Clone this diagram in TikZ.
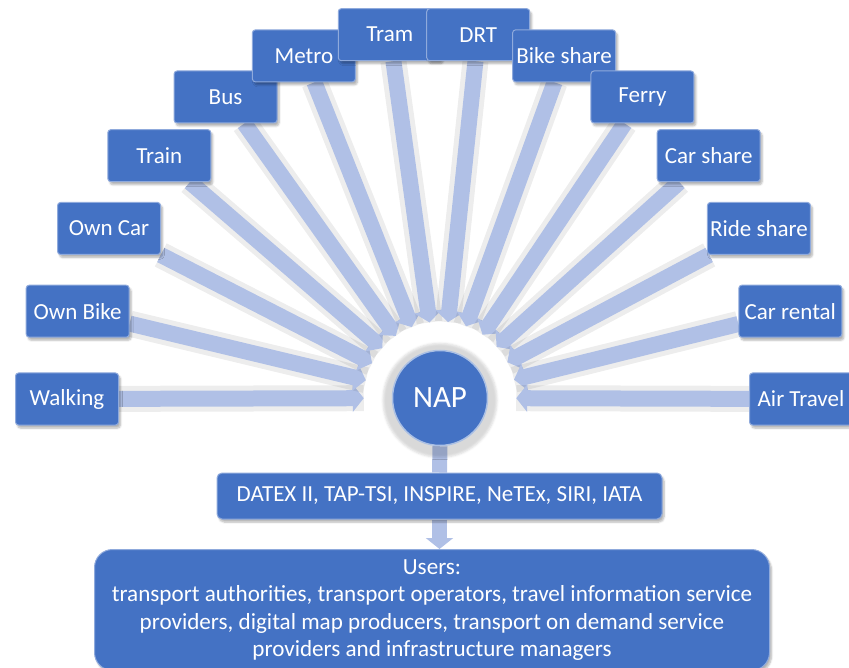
\documentclass[tikz,border=0pt]{standalone}
\usepackage{fontspec}
\setmainfont{Carlito}
\usetikzlibrary{arrows.meta,calc,shadows.blur}
\pgfdeclarelayer{background}
\pgfsetlayers{background,main}
\definecolor{boxblue}{RGB}{68,114,196}
\definecolor{fanblue}{RGB}{176,192,230}

\begin{document}
\begin{tikzpicture}[x=1pt,y=-1pt,
	mode/.style={rectangle, rounded corners=3pt, fill=boxblue, draw=boxblue!60!white,
		line width=1pt, text=white, inner sep=0pt, minimum width=103pt, minimum height=52pt,
		font=\fontsize{23}{27.5}\selectfont,
		blur shadow={shadow xshift=2pt, shadow yshift=-3pt, shadow opacity=30, shadow blur steps=6}},
	fan/.style={line width=16pt, draw=fanblue, -{Triangle[width=27pt,length=11pt]},
		preaction={draw=black, draw opacity=.07, line width=26pt, arrows=-}},
	down/.style={line width=15pt, draw=fanblue}]
	\useasboundingbox (0,0) rectangle (849,668);

	% transport modes on a half circle round the hub
	\foreach \name/\txt [count=\i from 0] in {walk/Walking, ownbike/Own Bike, owncar/Own Car,
			train/Train, bus/Bus, metro/Metro, tram/Tram, drt/DRT, bikeshare/Bike share,
			ferry/Ferry, carshare/Car share, rideshare/Ride share, carrental/Car rental,
			air/Air Travel}
		\node[mode] (\name) at ($(434,399)+({180+\i*180/13}:367)$) {\txt};

	\node[circle, fill=boxblue, draw=boxblue!45!white, line width=1.5pt, minimum size=95pt,
		text=white, font=\fontsize{31}{31}\selectfont,
		blur shadow={shadow xshift=0pt, shadow yshift=-2pt, shadow scale=1.2, shadow opacity=15}]
		(nap) at (440,398) {NAP};

	\node[mode, minimum width=445pt, minimum height=46pt, rounded corners=5pt]
		(std) at (439.5,496) {DATEX II, TAP-TSI, INSPIRE, NeTEx, SIRI, IATA};

	\node[mode, minimum width=675pt, minimum height=121pt, rounded corners=18pt,
		font=\fontsize{23.1}{27.3}\selectfont, align=center] (users) at (432,610)
		{Users:\\ transport authorities, transport operators, travel information service\\
		providers, digital map producers, transport on demand service\\
		providers and infrastructure managers};

	\begin{pgfonlayer}{background}
		\foreach \name in {walk, ownbike, owncar, train, bus, metro, tram, drt, bikeshare,
				ferry, carshare, rideshare, carrental, air}
			\draw[fan, shorten >=28pt] (\name) -- (nap);
		\draw[down] (nap.south) -- (std.north);
		\draw[down, -{Triangle[width=27pt,length=11pt]}] (std.south) -- (std.south |- users.north);
	\end{pgfonlayer}
\end{tikzpicture}
\end{document}
